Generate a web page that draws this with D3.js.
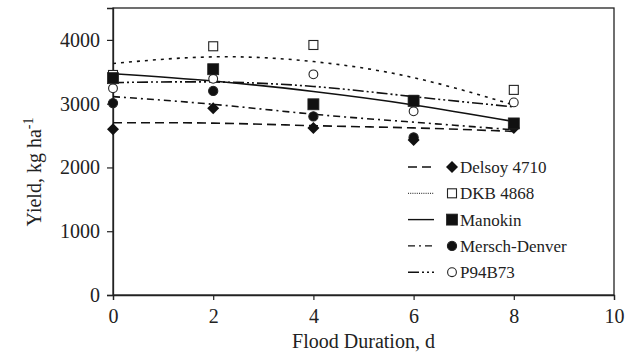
<!DOCTYPE html>
<html>
<head>
	<meta charset="utf-8">
	<script src="https://d3js.org/d3.v7.min.js"></script>
	<style>
		body { margin: 0; background: #fff; }
		svg text { font-family: "Liberation Serif", "Times New Roman", serif; fill: #222; }
	</style>
</head>
<body>
<div id="chart"></div>
<script>
// flood duration (d)
var days = [0, 2, 4, 6, 8];

var delsoy   = [2600, 2930, 2620, 2430, 2620];
var dkb      = [3450, 3900, 3920, 3060, 3216];
var manokin  = [3400, 3540, 2990, 3043, 2690];
var mersch   = [3010, 3200, 2800, 2470, 2660];
var p94      = [3240, 3390, 3460, 2880, 3020];

// fitted trend lines at the same days
var delsoyFit  = [2700, 2695, 2655, 2620, 2565];
var dkbFit     = [3630, 3734, 3660, 3408, 2980];
var manokinFit = [3470, 3355, 3190, 2980, 2720];
var merschFit  = [3110, 2990, 2835, 2710, 2590];
var p94Fit     = [3330, 3340, 3270, 3110, 2950];

var names = ["Delsoy 4710", "DKB 4868", "Manokin", "Mersch-Denver", "P94B73"];
var xTicks = [0, 2, 4, 6, 8, 10];
var yTicks = [0, 1000, 2000, 3000, 4000];

var series = [
	{name: names[0], pts: delsoy,  fit: delsoyFit,  dash: "9,5",            marker: "diamond", fill: "#111"},
	{name: names[1], pts: dkb,     fit: dkbFit,     dash: "3,5",            marker: "square",  fill: "#fff"},
	{name: names[2], pts: manokin, fit: manokinFit, dash: null,             marker: "bigsq",   fill: "#111"},
	{name: names[3], pts: mersch,  fit: merschFit,  dash: "7,4,2,4",        marker: "circle",  fill: "#111"},
	{name: names[4], pts: p94,     fit: p94Fit,     dash: "11,3,2,3,2,3",   marker: "circle",  fill: "#fff"}
];

var W = 638, H = 356;
var pLeft = 113, pRight = 614, pTop = 8, pBottom = 295;

var svg = d3.select("#chart").append("svg").attr("width", W).attr("height", H);

var x = d3.scaleLinear().domain([0, 10]).range([pLeft, pRight]);
var y = d3.scaleLinear().domain([0, 4500]).range([pBottom, pTop]);

// frame
svg.append("rect")
	.attr("x", pLeft).attr("y", pTop)
	.attr("width", pRight - pLeft).attr("height", pBottom - pTop)
	.attr("fill", "none").attr("stroke", "#222").attr("stroke-width", 1.3);

var xAxis = svg.append("g").attr("transform", "translate(0," + pBottom + ")")
	.call(d3.axisBottom(x).tickValues(xTicks).tickSize(5).tickPadding(6).tickFormat(d3.format("d")));
var yAxis = svg.append("g").attr("transform", "translate(" + pLeft + ",0)")
	.call(d3.axisLeft(y).tickValues(yTicks).tickSize(6).tickPadding(7).tickFormat(d3.format("d")));
[xAxis, yAxis].forEach(function(a) {
	a.select(".domain").attr("stroke", "#222").attr("stroke-width", 1.3);
	a.selectAll(".tick line").attr("stroke", "#222").attr("stroke-width", 1.2);
	a.selectAll(".tick text").style("font-size", "20px").attr("fill", "#222")
		.style("font-family", '"Liberation Serif", serif');
});
xAxis.selectAll(".tick text").attr("dy", "0.85em");

svg.append("text")
	.attr("x", (pLeft + pRight) / 2).attr("y", 348)
	.attr("text-anchor", "middle").style("font-size", "20px")
	.text("Flood Duration, d");

var yl = svg.append("text")
	.attr("transform", "translate(41,172) rotate(-90)")
	.attr("text-anchor", "middle").style("font-size", "20px");
yl.append("tspan").text("Yield, kg ha");
yl.append("tspan").attr("dy", -8).style("font-size", "14px").text("-1");

var line = d3.line()
	.x(function(d) { return x(d[0]); })
	.y(function(d) { return y(d[1]); })
	.curve(d3.curveNatural);

function drawMarker(g, type, fill, cx, cy) {
	if (type == "diamond") {
		g.append("path").attr("d", d3.symbol(d3.symbolSquare, 72)())
			.attr("transform", "translate(" + cx + "," + cy + ") rotate(45)")
			.attr("fill", fill);
	} else if (type == "square") {
		g.append("rect").attr("x", cx - 4.5).attr("y", cy - 4.5).attr("width", 9).attr("height", 9)
			.attr("fill", fill).attr("stroke", "#222").attr("stroke-width", 1.1);
	} else if (type == "bigsq") {
		g.append("rect").attr("x", cx - 5.5).attr("y", cy - 5.5).attr("width", 11).attr("height", 11)
			.attr("fill", fill).attr("stroke", "#222").attr("stroke-width", 0.8);
	} else {
		g.append("circle").attr("cx", cx).attr("cy", cy).attr("r", fill == "#fff" ? 4.4 : 4.6)
			.attr("fill", fill).attr("stroke", "#222").attr("stroke-width", 1.1);
	}
}

// trend lines
series.forEach(function(s) {
	svg.append("path")
		.datum(days.map(function(d, i) { return [d, s.fit[i]]; }))
		.attr("d", line)
		.attr("fill", "none").attr("stroke", "#111").attr("stroke-width", 1.6)
		.attr("stroke-dasharray", s.dash);
});

// observed points, drawn so Manokin ends on top
var order = [4, 1, 3, 0, 2];
order.forEach(function(k) {
	var s = series[k];
	var g = svg.append("g");
	days.forEach(function(d, i) {
		drawMarker(g, s.marker, s.fill, x(d), y(s.pts[i]));
	});
});

// legend
var lg = svg.append("g");
series.forEach(function(s, i) {
	var ly = 167 + i * 26.3;
	lg.append("line")
		.attr("x1", 408).attr("x2", 434).attr("y1", ly).attr("y2", ly)
		.attr("stroke", "#111").attr("stroke-width", s.dash == "3,5" ? 1 : 1.4)
		.attr("stroke-dasharray", s.dash == "3,5" ? "1,1.2" : s.dash);
	drawMarker(lg, s.marker, s.fill, 452, ly);
	lg.append("text").attr("x", 460).attr("y", ly).attr("dy", "0.35em")
		.style("font-size", "17px").text(s.name);
});
</script>
</body>
</html>
